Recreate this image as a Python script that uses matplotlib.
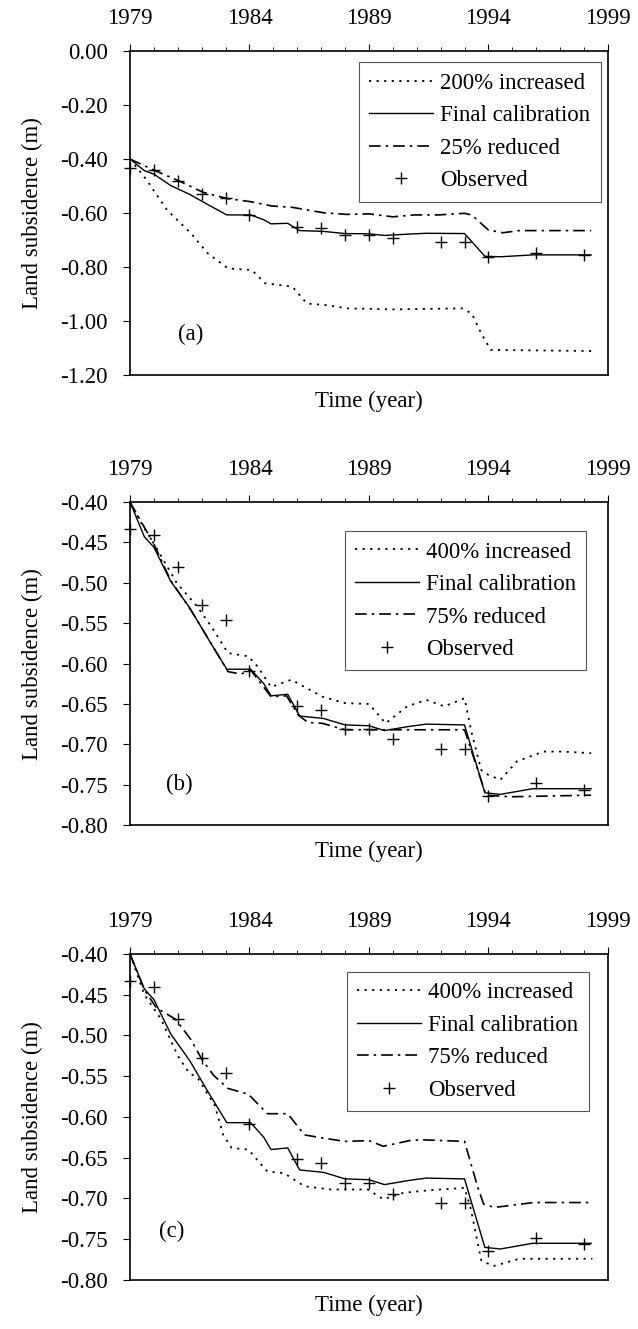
import matplotlib
matplotlib.use("Agg")
import matplotlib.pyplot as plt
from matplotlib.ticker import MultipleLocator, FixedLocator, FormatStrFormatter

plt.rcParams['font.family'] = ['Liberation Serif', 'DejaVu Serif']
plt.rcParams['axes.unicode_minus'] = False

FS = 16.5
year_ticks = [1979, 1984, 1989, 1994, 1999]

# observed subsidence (same in all panels)
obs_x = [1979, 1980, 1981, 1982, 1983, 1984, 1986, 1987, 1988, 1989, 1990, 1992, 1993, 1994, 1996, 1998]
obs_y = [-0.433, -0.441, -0.480, -0.528, -0.546, -0.609, -0.652, -0.657, -0.681, -0.681, -0.694,
         -0.706, -0.706, -0.764, -0.748, -0.756]

# final calibration (same in all panels)
cal_x = [1979.0, 1979.6, 1980.0, 1980.7, 1981.5, 1982.2, 1983.05, 1984.05, 1984.6, 1984.9, 1985.6,
         1986.1, 1987.1, 1988.0, 1989.0, 1989.65, 1990.65, 1991.4, 1993.0, 1993.85, 1994.5, 1995.85, 1998.3]
cal_y = [-0.400, -0.443, -0.456, -0.498, -0.531, -0.566, -0.607, -0.607, -0.625, -0.640, -0.638,
         -0.665, -0.668, -0.676, -0.677, -0.683, -0.678, -0.675, -0.676, -0.760, -0.762, -0.755, -0.755]

# panel (a)
inc200_x = [1979.0, 1979.7, 1980.55, 1981.55, 1982.25, 1983.1, 1984.1, 1984.65, 1985.8, 1986.4, 1987.2,
            1988.1, 1990.0, 1992.9, 1993.3, 1993.7, 1994.1, 1998.3]
inc200_y = [-0.400, -0.478, -0.589, -0.675, -0.749, -0.805, -0.811, -0.860, -0.873, -0.935, -0.941,
            -0.953, -0.957, -0.953, -0.972, -1.046, -1.107, -1.111]
red25_x = [1979.0, 1980.0, 1981.05, 1982.05, 1983.05, 1984.05, 1984.95, 1985.8, 1987.1, 1988.05, 1989.0,
           1990.0, 1990.9, 1991.9, 1993.0, 1993.3, 1994.0, 1994.6, 1995.3, 1998.3]
red25_y = [-0.400, -0.441, -0.481, -0.523, -0.546, -0.558, -0.574, -0.579, -0.599, -0.605, -0.603,
           -0.614, -0.607, -0.607, -0.601, -0.607, -0.663, -0.673, -0.665, -0.665]

# panel (b)
inc400b_x = [1979.0, 1979.55, 1980.15, 1980.95, 1981.8, 1982.4, 1983.1, 1983.95, 1984.35, 1984.9, 1985.75,
             1987.05, 1988.0, 1989.0, 1989.7, 1990.6, 1991.4, 1992.15, 1993.0, 1993.3, 1993.7, 1994.0,
             1994.5, 1995.2, 1996.3, 1997.1, 1998.3]
inc400b_y = [-0.400, -0.430, -0.459, -0.500, -0.529, -0.554, -0.587, -0.591, -0.604, -0.629, -0.620,
             -0.641, -0.649, -0.650, -0.674, -0.653, -0.645, -0.653, -0.643, -0.686, -0.732, -0.738,
             -0.744, -0.721, -0.709, -0.709, -0.711]
red75b_x = [1979.0, 1980.0, 1980.7, 1981.55, 1982.25, 1983.1, 1983.65, 1984.05, 1984.9, 1985.55, 1986.05,
            1986.45, 1987.05, 1988.0, 1989.0, 1990.0, 1993.0, 1993.9, 1994.9, 1998.3]
red75b_y = [-0.400, -0.452, -0.497, -0.534, -0.568, -0.610, -0.613, -0.608, -0.641, -0.640, -0.664,
            -0.673, -0.674, -0.682, -0.682, -0.682, -0.682, -0.763, -0.765, -0.763]

# panel (c)
inc400c_x = [1979.0, 1979.6, 1980.3, 1981.0, 1981.45, 1981.85, 1982.55, 1982.9, 1983.25, 1983.95, 1984.75,
             1985.45, 1986.3, 1987.4, 1988.95, 1989.6, 1990.45, 1991.5, 1993.0, 1993.25, 1993.7, 1994.2,
             1995.3, 1998.35]
inc400c_y = [-0.400, -0.450, -0.480, -0.525, -0.545, -0.553, -0.586, -0.622, -0.638, -0.640, -0.667,
             -0.669, -0.685, -0.689, -0.689, -0.701, -0.693, -0.690, -0.687, -0.711, -0.776, -0.783,
             -0.774, -0.774]
red75c_x = [1979.0, 1979.6, 1980.1, 1980.9, 1981.55, 1982.0, 1982.5, 1983.1, 1983.95, 1984.75, 1985.6,
            1986.3, 1987.1, 1988.0, 1989.0, 1989.6, 1990.7, 1991.2, 1993.0, 1993.55, 1993.8, 1994.25,
            1995.9, 1998.35]
red75c_y = [-0.400, -0.444, -0.466, -0.480, -0.505, -0.529, -0.549, -0.565, -0.572, -0.596, -0.596,
            -0.622, -0.626, -0.630, -0.629, -0.636, -0.629, -0.628, -0.630, -0.686, -0.707, -0.711,
            -0.705, -0.705]

panels = [
    dict(tag='(a)', inc=(inc200_x, inc200_y), red=(red25_x, red25_y),
         labels=('200% increased', 'Final calibration', '25% reduced', 'Observed'),
         ylim=(-1.2, 0.0), ystep=0.2, rect=[0.2038, 0.7178, 0.749, 0.2438],
         tagpos=(0.10, 0.125), legpos=(0.985, 0.965)),
    dict(tag='(b)', inc=(inc400b_x, inc400b_y), red=(red75b_x, red75b_y),
         labels=('400% increased', 'Final calibration', '75% reduced', 'Observed'),
         ylim=(-0.8, -0.4), ystep=0.05, rect=[0.2038, 0.3792, 0.749, 0.2430],
         tagpos=(0.075, 0.125), legpos=(0.955, 0.91)),
    dict(tag='(c)', inc=(inc400c_x, inc400c_y), red=(red75c_x, red75c_y),
         labels=('400% increased', 'Final calibration', '75% reduced', 'Observed'),
         ylim=(-0.8, -0.4), ystep=0.05, rect=[0.2038, 0.0369, 0.749, 0.2453],
         tagpos=(0.06, 0.15), legpos=(0.96, 0.945)),
]

fig = plt.figure(figsize=(6.38, 13.29), dpi=100)

for p in panels:
    ax = fig.add_axes(p['rect'])
    ax.plot(p['inc'][0], p['inc'][1], color='black', lw=1.3, dashes=(1.2, 3.0), label=p['labels'][0])
    ax.plot(cal_x, cal_y, color='black', lw=1.0, label=p['labels'][1])
    ax.plot(p['red'][0], p['red'][1], color='black', lw=1.2, dashes=(7, 3, 1.5, 3), label=p['labels'][2])
    ax.plot(obs_x, obs_y, ls='none', marker='+', ms=9, mew=1.0, color='black',
            label=p['labels'][3], clip_on=False)

    ax.set_xlim(1979, 1999)
    ax.set_ylim(*p['ylim'])
    ax.xaxis.tick_top()
    ax.xaxis.set_major_locator(FixedLocator(year_ticks))
    ax.xaxis.set_minor_locator(MultipleLocator(1))
    ax.yaxis.set_major_locator(MultipleLocator(p['ystep']))
    ax.yaxis.set_major_formatter(FormatStrFormatter('%.2f'))
    ax.tick_params(axis='x', which='major', direction='out', length=5, width=0.8, pad=11, labelsize=FS)
    ax.tick_params(axis='x', which='minor', direction='out', length=3, width=0.6)
    ax.tick_params(axis='y', direction='out', length=5, width=0.8, pad=11, labelsize=FS)
    for s in ax.spines.values():
        s.set_linewidth(1.2)

    ax.xaxis.set_label_position('bottom')
    ax.set_xlabel('Time (year)', fontsize=FS, labelpad=11)
    ax.set_ylabel('Land subsidence (m)', fontsize=FS, labelpad=12)
    ax.text(p['tagpos'][0], p['tagpos'][1], p['tag'], transform=ax.transAxes, fontsize=FS,
            ha='left', va='center')

    leg = ax.legend(loc='upper right', bbox_to_anchor=p['legpos'], fontsize=FS, frameon=True,
                    fancybox=False, edgecolor='#555555', framealpha=1, handlelength=2.8,
                    handletextpad=0.3, labelspacing=0.5, borderpad=0.45, borderaxespad=0)
    leg.get_frame().set_linewidth(0.8)

fig.savefig('out.png', dpi=100)
